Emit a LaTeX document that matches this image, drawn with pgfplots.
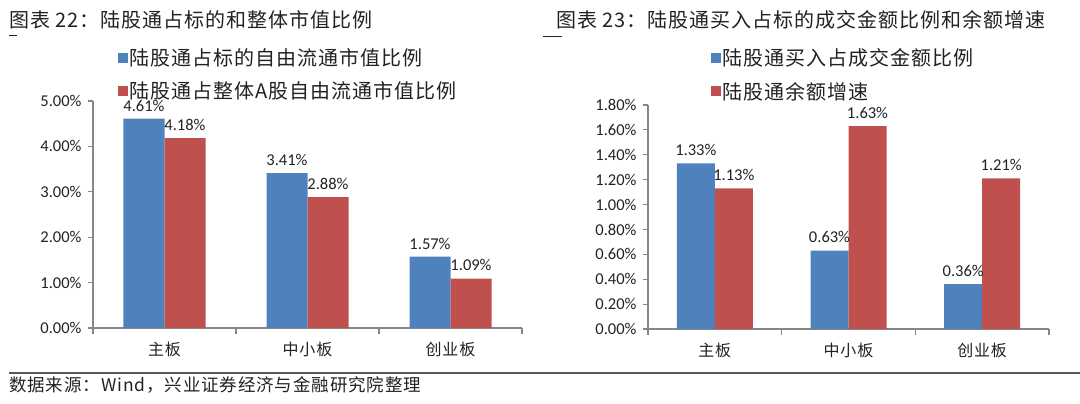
\documentclass[border=0pt]{standalone}
\usepackage{pgfplots}
\pgfplotsset{compat=1.18}
\usepackage{fontspec}
\setmainfont{Carlito}
\newfontfamily\cjk[LetterSpace=5]{Noto Sans CJK SC}
\definecolor{sblue}{HTML}{4F81BD}
\definecolor{sred}{HTML}{C0504D}
\definecolor{axgray}{HTML}{868686}
\definecolor{txt}{HTML}{222222}

\pgfplotsset{
  mybars/.style={
    ybar=0pt, scale only axis, clip=false,
    axis lines*=left,
    axis line style={axgray, line width=1.2pt},
    /pgf/number format/assume math mode=true,
    xmin=-0.5, xmax=2.5, ymin=0,
    tick align=outside,
    major tick length=5pt,
    xtick={0,1,2}, xticklabels={主板,中小板,创业板},
    xticklabel style={font=\cjk\fontsize{16}{16}\selectfont, text=txt, yshift=-6pt},
    major x tick style={draw=none},
    extra x ticks={-0.5,0.5,1.5,2.5}, extra x tick labels={},
    extra x tick style={major x tick style={draw=axgray, line width=1.2pt}, major tick length=6pt},
    ytick style={axgray, line width=1.2pt},
    yticklabel style={font=\fontsize{16.5}{16.5}\selectfont, text=txt, xshift=-3pt},
    nodes near coords={\pgfmathprintnumber[fixed,fixed zerofill,precision=2]{\pgfplotspointmeta}\%},
    every node near coord/.append style={font=\fontsize{16.5}{16.5}\selectfont, text=txt, yshift=4pt},
    legend style={draw=none, fill=none, font=\cjk\fontsize{20}{20}\selectfont, text=txt,
      anchor=north west, row sep=11pt, cells={anchor=west}},
    legend image code/.code={\fill[##1, draw=none] (0pt,-5pt) rectangle (10pt,5pt);},
  }
}

\begin{document}
\begin{tikzpicture}
\useasboundingbox (0pt,0pt) rectangle (1080pt,404pt);

% Left chart
\begin{axis}[mybars,
  at={(93pt,76pt)}, anchor=south west,
  width=429pt, height=227pt,
  ymax=5, bar width=41pt,
  ytick={0,1,2,3,4,5},
  yticklabels={0.00\%,1.00\%,2.00\%,3.00\%,4.00\%,5.00\%},
  legend style={at={(0.05,1.25)}},
]
\addplot[fill=sblue, draw=none] coordinates {(0,4.61) (1,3.41) (2,1.57)};
\addplot[fill=sred, draw=none] coordinates {(0,4.18) (1,2.88) (2,1.09)};
\legend{陆股通占标的自由流通市值比例, 陆股通占整体A股自由流通市值比例}
\end{axis}

% Right chart
\begin{axis}[mybars,
  at={(648pt,75pt)}, anchor=south west,
  width=401pt, height=224pt,
  ymax=1.8, bar width=38pt,
  ytick={0,0.2,0.4,0.6,0.8,1.0,1.2,1.4,1.6,1.8},
  yticklabels={0.00\%,0.20\%,0.40\%,0.60\%,0.80\%,1.00\%,1.20\%,1.40\%,1.60\%,1.80\%},
  legend style={at={(0.148,1.27)}},
]
\addplot[fill=sblue, draw=none] coordinates {(0,1.33) (1,0.63) (2,0.36)};
\addplot[fill=sred, draw=none] coordinates {(0,1.13) (1,1.63) (2,1.21)};
\legend{陆股通买入占成交金额比例, 陆股通余额增速}
\end{axis}

% Titles and decorations
\node[anchor=west, inner sep=0pt, text=txt, font=\cjk\fontsize{20}{20}\selectfont] at (9pt,384pt) {图表 22：陆股通占标的和整体市值比例};
\node[anchor=west, inner sep=0pt, text=txt, font=\cjk\fontsize{20}{20}\selectfont] at (556pt,384pt) {图表 23：陆股通买入占标的成交金额比例和余额增速};
\draw[txt, line width=0.8pt] (9pt,369pt) -- (17pt,369pt);
\draw[txt, line width=0.8pt] (543pt,368pt) -- (562pt,368pt);
\draw[gray!70!black, line width=1.5pt] (9pt,31pt) -- (1080pt,31pt);
\node[anchor=west, inner sep=0pt, text=txt, font=\cjk\fontsize{17.5}{17.5}\selectfont] at (9pt,19pt) {数据来源：Wind，兴业证券经济与金融研究院整理};
\end{tikzpicture}
\end{document}
